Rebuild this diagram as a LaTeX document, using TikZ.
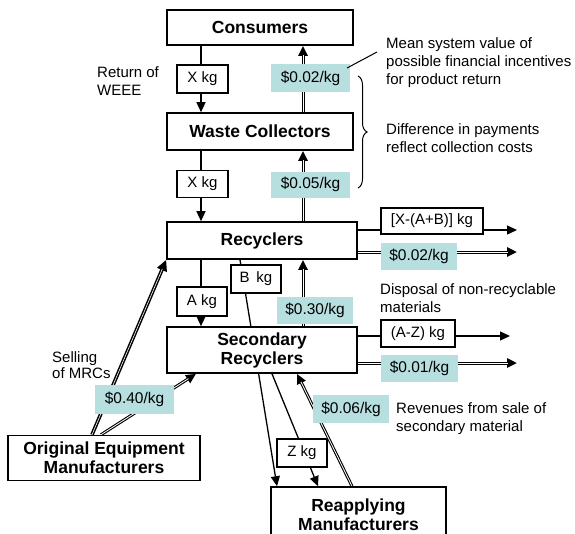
\documentclass[tikz,border=0pt]{standalone}
\usepackage{fontspec}
\setmainfont{Liberation Sans}
\usetikzlibrary{arrows.meta,decorations.pathreplacing,backgrounds}
\definecolor{mfill}{RGB}{183,223,224}
\begin{document}
\begin{tikzpicture}[x=1pt,y=-1pt,
  bigbox/.style={draw, line width=1.6pt, fill=white, align=center, inner sep=0pt,
    font=\fontsize{17.5}{19}\selectfont\bfseries},
  lbl/.style={draw, line width=1.3pt, fill=white, inner sep=0pt,
    font=\fontsize{15}{16}\selectfont},
  mlbl/.style={fill=mfill, inner sep=0pt, font=\fontsize{15.5}{16}\selectfont},
  note/.style={align=left, inner sep=0pt, anchor=west,
    font=\fontsize{15}{18}\selectfont},
  flow/.style={line width=1.3pt, -{Triangle[length=10pt,width=9pt]}},
  cash/.style={draw=black, line width=3pt, -{Triangle[length=10pt,width=9pt]},
    postaction={draw=white, line width=0.8pt, shorten >=9pt, -}},
  bigcash/.style={draw=black, line width=3.6pt, -{Triangle[length=11pt,width=10pt]},
    postaction={draw=white, line width=0.6pt, shorten >=10pt, -}}]
\useasboundingbox (0,0) rectangle (575,533);

% main boxes
\node[bigbox, minimum width=186pt, minimum height=35pt] (cons) at (260,27.5) {Consumers};
\node[bigbox, minimum width=186pt, minimum height=37pt] (wc) at (260,131.5) {Waste Collectors};
\node[bigbox, minimum width=190pt, minimum height=37pt] (rec) at (262,240.5) {Recyclers};
\node[bigbox, minimum width=190pt, minimum height=46pt] (sr) at (262,350) {Secondary\\Recyclers};
\node[bigbox, minimum width=192pt, minimum height=45pt] (oem) at (104,458) {Original Equipment\\Manufacturers};
\node[bigbox, minimum width=175pt, minimum height=56pt] (ram) at (358.5,515) {Reapplying\\Manufacturers};

% quantity labels
\node[lbl, minimum width=51pt, minimum height=28pt] (xkg1) at (202.5,79) {X kg};
\node[lbl, minimum width=51pt, minimum height=27pt] (xkg2) at (202.5,184) {X kg};
\node[lbl, minimum width=50pt, minimum height=29pt] (akg) at (202,301.5) {A kg};
\node[lbl, minimum width=50pt, minimum height=28pt] (bkg) at (256,279) {B\, kg};
\node[lbl, minimum width=50pt, minimum height=28pt] (zkg) at (302,453) {Z kg};
\node[lbl, minimum width=102pt, minimum height=26pt] (xab) at (432,221) {[X-(A+B)] kg};
\node[lbl, minimum width=74pt, minimum height=27pt] (azkg) at (418,333.5) {(A-Z) kg};

% money labels
\node[mlbl, minimum width=79pt, minimum height=28pt] (m002) at (310.5,78) {\$0.02/kg};
\node[mlbl, minimum width=79pt, minimum height=26pt] (m005) at (310.5,184.5) {\$0.05/kg};
\node[mlbl, minimum width=76pt, minimum height=27pt] (m002b) at (419,256.5) {\$0.02/kg};
\node[mlbl, minimum width=76pt, minimum height=27pt] (m030) at (315,310.5) {\$0.30/kg};
\node[mlbl, minimum width=77pt, minimum height=27pt] (m001) at (419.5,368.5) {\$0.01/kg};
\node[mlbl, minimum width=76pt, minimum height=28pt] (m006) at (351,409) {\$0.06/kg};
\node[mlbl, minimum width=79pt, minimum height=29pt] (m040) at (134.5,399.5) {\$0.40/kg};

% notes
\node[note] (tret) at (97,81) {Return of\\WEEE};
\node[note] (tmean) at (386,63) {Mean system value of\\possible financial incentives\\for product return};
\node[note] (tdiff) at (386,138) {Difference in payments\\reflect collection costs};
\node[note] (tdisp) at (380,298) {Disposal of non-recyclable\\materials};
\node[note] (trev) at (396,419) {Revenues from sale of\\secondary material};
\node[note, font=\fontsize{15}{16.5}\selectfont] (tsell) at (52,365) {Selling\\of MRCs};

% helper coordinates
\coordinate (fx) at (201,0);
\coordinate (mx) at (303,0);
\coordinate (e1) at (517,230);
\coordinate (e2) at (517,252);
\coordinate (e3) at (510,336);
\coordinate (e4) at (517,363);
\coordinate (b1) at (240,0);
\coordinate (b2) at (277,0);
\coordinate (z1) at (272,0);
\coordinate (z2) at (318,0);
\coordinate (r1) at (352,0);
\coordinate (r2) at (297,0);
\coordinate (o1) at (92,0);
\coordinate (o2) at (101,0);
\coordinate (o3) at (196,0);
\coordinate (brtop) at (358,76);
\coordinate (brbot) at (358,188);
\coordinate (pt1) at (347,68);
\coordinate (pt2) at (377,52);

\begin{pgfonlayer}{background}
\draw[flow] (cons.south -| fx) -- (wc.north -| fx);
\draw[cash] (wc.north -| mx) -- (cons.south -| mx);
\draw[flow] (wc.south -| fx) -- (rec.north -| fx);
\draw[cash] (rec.north -| mx) -- (wc.south -| mx);
\draw[flow] (rec.south -| fx) -- (sr.north -| fx);
\draw[cash] (sr.north -| mx) -- (rec.south -| mx);
\draw[flow] (rec.east |- e1) -- (e1);
\draw[cash] (rec.east |- e2) -- (e2);
\draw[flow] (sr.east |- e3) -- (e3);
\draw[cash] (sr.east |- e4) -- (e4);
\draw[flow] (rec.south -| b1) -- (ram.north -| b2);
\draw[flow] (sr.south -| z1) -- (ram.north -| z2);
\draw[cash] (ram.north -| r1) -- (sr.south -| r2);
\draw[bigcash] (oem.north -| o1) -- (rec.south west);
\draw[cash] (oem.north -| o2) -- (sr.south -| o3);
\end{pgfonlayer}

\draw[line width=1pt] (pt1) -- (pt2);
\draw[line width=1pt, decorate, decoration={brace, amplitude=9pt}] (brtop) -- (brbot);
\end{tikzpicture}
\end{document}
